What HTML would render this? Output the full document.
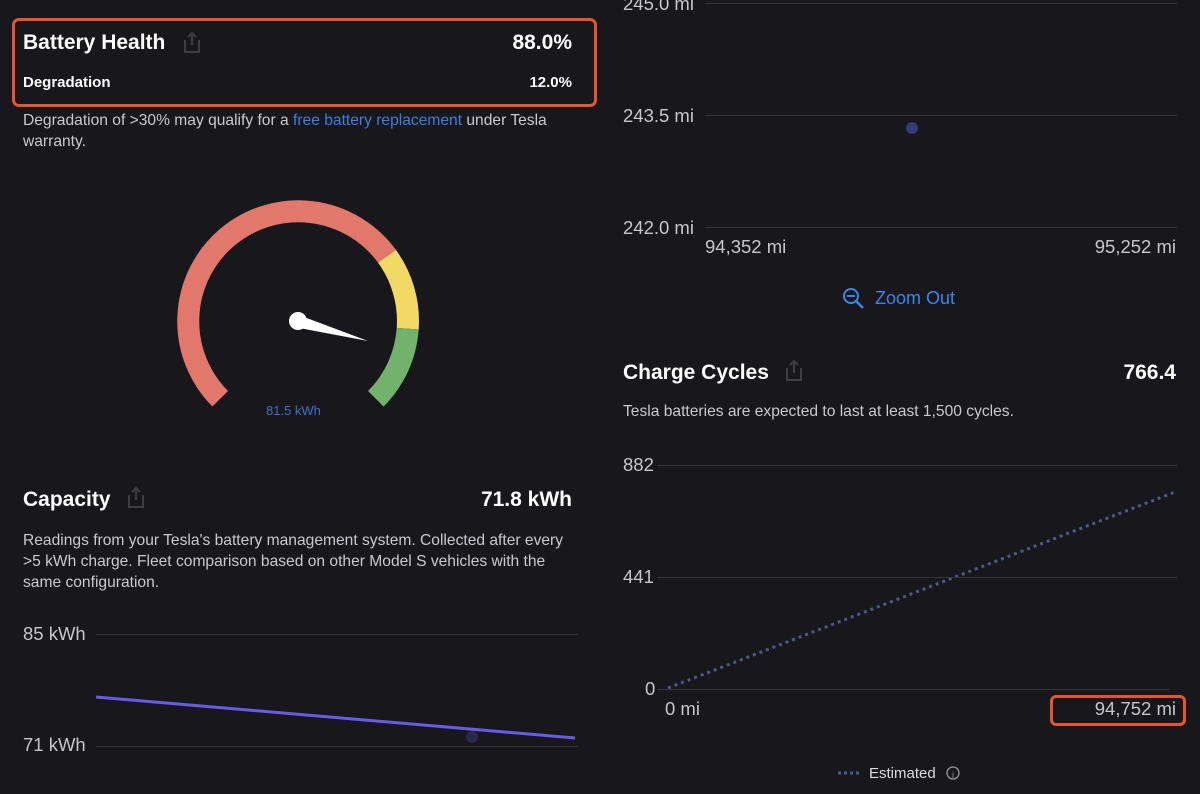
<!DOCTYPE html>
<html><head><meta charset="utf-8"><style>
body{margin:0;width:1200px;height:794px;background:#17171c;overflow:hidden;font-family:"Liberation Sans",sans-serif;color:#fff;position:relative}
.t{position:absolute;white-space:nowrap}
.h{font-weight:bold;font-size:21px}
.s{font-size:15.6px;color:#c9c9cf}
.ax{font-size:18.5px;color:#c6c6cc}
.g{position:absolute;height:1px;background:#34343b}
</style></head><body>
<div style="position:absolute;left:12px;top:18px;width:579px;height:83px;border:3px solid #e8552b;border-radius:7px"></div>
<div class="t h" style="left:23px;top:31px">Battery Health</div>
<div class="t h" style="right:628px;top:31px">88.0%</div>
<div class="t" style="left:23px;top:74px;font-weight:bold;font-size:15px">Degradation</div>
<div class="t" style="right:628px;top:74px;font-weight:bold;font-size:15px">12.0%</div>
<div class="t s" style="left:23px;top:110px;line-height:21px">Degradation of &gt;30% may qualify for a <span style="color:#3d7ee0">free battery replacement</span> under Tesla<br>warranty.</div>

<svg style="position:absolute;left:0;top:0" width="1200" height="794">
<g fill="none" stroke-width="22">
<path d="M220.2 398.8 A110 110 0 1 1 387 256.3" stroke="#e2786b"/>
<path d="M387 256.3 A110 110 0 0 1 407.7 328.7" stroke="#f2d963"/>
<path d="M407.7 328.7 A110 110 0 0 1 375.8 398.8" stroke="#72b26c"/>
</g>
<circle cx="298" cy="321" r="9" fill="#fff"/>
<polygon points="296,314 368,341 294,327" fill="#fff"/>
<g stroke="#3e3e44" stroke-width="2" fill="none">
<path d="M185 40 v12 h14 v-12 M192 33 v12 M188 37 l4-4 4 4"/>
<path d="M129 495 v12 h14 v-12 M136 488 v12 M132 492 l4-4 4 4"/>
<path d="M787 368 v12 h14 v-12 M794 361 v12 M790 365 l4-4 4 4"/>
</g>
<line x1="96" y1="697" x2="575" y2="738" stroke="#6a5be8" stroke-width="3"/>
<circle cx="472" cy="737" r="6" fill="#2a2a50"/>
<circle cx="912" cy="128" r="6" fill="#3a3a7a"/>
<line x1="668" y1="688" x2="1175" y2="492" stroke="#525886" stroke-width="3" stroke-dasharray="3 4"/>
<line x1="838" y1="773" x2="860" y2="773" stroke="#525886" stroke-width="3" stroke-dasharray="3 3"/>
<circle cx="953" cy="773" r="6" fill="none" stroke="#999" stroke-width="1.3"/>
<text x="953" y="778" font-size="9" fill="#999" text-anchor="middle" font-family="Liberation Sans">i</text>
<circle cx="851" cy="296" r="7" fill="none" stroke="#3a86e8" stroke-width="2"/>
<line x1="856" y1="301" x2="863" y2="308" stroke="#3a86e8" stroke-width="2.5"/>
<line x1="847" y1="296" x2="855" y2="296" stroke="#3a86e8" stroke-width="2"/>
</svg>
<div class="t" style="left:266px;top:403px;font-size:13px;color:#3a72c8">81.5 kWh</div>

<div class="t h" style="left:23px;top:488px">Capacity</div>
<div class="t h" style="right:628px;top:488px">71.8 kWh</div>
<div class="t s" style="left:23px;top:530px;line-height:21px">Readings from your Tesla's battery management system. Collected after every<br>&gt;5 kWh charge. Fleet comparison based on other Model S vehicles with the<br>same configuration.</div>
<div class="t ax" style="left:23px;top:623px">85 kWh</div>
<div class="g" style="left:96px;top:634px;width:482px"></div>
<div class="t ax" style="left:23px;top:734px">71 kWh</div>
<div class="g" style="left:96px;top:746px;width:482px"></div>

<div class="t ax" style="left:623px;top:-7px">245.0 mi</div>
<div class="g" style="left:705px;top:3px;width:472px"></div>
<div class="t ax" style="left:623px;top:105px">243.5 mi</div>
<div class="g" style="left:705px;top:115px;width:472px"></div>
<div class="t ax" style="left:623px;top:217px">242.0 mi</div>
<div class="g" style="left:705px;top:227px;width:472px"></div>
<div class="t ax" style="left:705px;top:236px">94,352 mi</div>
<div class="t ax" style="right:24px;top:236px">95,252 mi</div>
<div class="t" style="left:875px;top:288px;font-size:18px;color:#3a86e8">Zoom Out</div>

<div class="t h" style="left:623px;top:361px">Charge Cycles</div>
<div class="t h" style="right:24px;top:361px">766.4</div>
<div class="t" style="left:623px;top:403px;font-size:15.6px;color:#c9c9cf">Tesla batteries are expected to last at least 1,500 cycles.</div>
<div class="t ax" style="left:623px;top:454px">882</div>
<div class="g" style="left:657px;top:465px;width:520px"></div>
<div class="t ax" style="left:623px;top:566px">441</div>
<div class="g" style="left:657px;top:577px;width:520px"></div>
<div class="t ax" style="left:645px;top:678px">0</div>
<div class="g" style="left:657px;top:689px;width:512px"></div>
<div class="t ax" style="left:665px;top:698px">0 mi</div>
<div style="position:absolute;left:1050px;top:695px;width:136px;height:31px;border:3px solid #e8552b;border-radius:6px;box-sizing:border-box"></div>
<div class="t ax" style="right:24px;top:698px">94,752 mi</div>
<div class="t" style="left:869px;top:765px;font-size:15px;color:#ddd">Estimated</div>
</body></html>
